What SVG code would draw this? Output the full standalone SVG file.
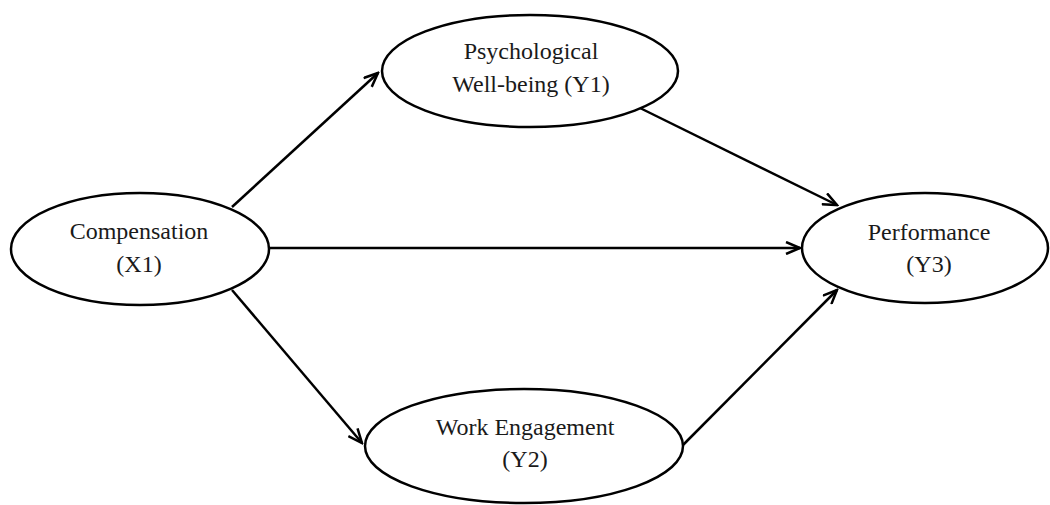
<svg xmlns="http://www.w3.org/2000/svg" width="1050" height="505" viewBox="0 0 1050 505">
  <defs>
    <style>
      .node { fill: #ffffff; stroke: #000000; stroke-width: 2.5; }
      .lbl { font-family: "Liberation Serif", "Times New Roman", serif; font-size: 24px; fill: #1a1a1a; text-anchor: middle; }
      .edge { stroke: #000000; stroke-width: 2.5; fill: none; marker-end: url(#arr); }
    </style>
    <marker id="arr" viewBox="0 0 18 14" refX="16" refY="7" markerWidth="18" markerHeight="14" markerUnits="userSpaceOnUse" orient="auto">
      <path d="M2,1 L16,7 L2,13" fill="none" stroke="#000000" stroke-width="2.5" stroke-linejoin="miter"/>
    </marker>
  </defs>
  <rect width="1050" height="505" fill="#ffffff"/>
  <g id="connectors">
    <line class="edge" x1="232" y1="207" x2="378" y2="73"/>
    <line class="edge" x1="269" y1="248" x2="800" y2="248"/>
    <line class="edge" x1="232" y1="290" x2="362" y2="443"/>
    <line class="edge" x1="640" y1="108" x2="837" y2="205"/>
    <line class="edge" x1="683" y1="445" x2="837" y2="290"/>
  </g>
  <g id="compensation">
    <ellipse class="node" cx="140" cy="249" rx="129" ry="56"/>
    <text class="lbl" x="139" y="239">Compensation</text>
    <text class="lbl" x="139" y="272">(X1)</text>
  </g>
  <g id="psych">
    <ellipse class="node" cx="530" cy="71" rx="148" ry="56"/>
    <text class="lbl" x="531" y="59">Psychological</text>
    <text class="lbl" x="531" y="92">Well-being (Y1)</text>
  </g>
  <g id="performance">
    <ellipse class="node" cx="925" cy="248" rx="123" ry="55"/>
    <text class="lbl" x="929" y="240">Performance</text>
    <text class="lbl" x="929" y="272">(Y3)</text>
  </g>
  <g id="engagement">
    <ellipse class="node" cx="524" cy="446" rx="159" ry="57"/>
    <text class="lbl" x="525" y="435">Work Engagement</text>
    <text class="lbl" x="525" y="467">(Y2)</text>
  </g>
</svg>
